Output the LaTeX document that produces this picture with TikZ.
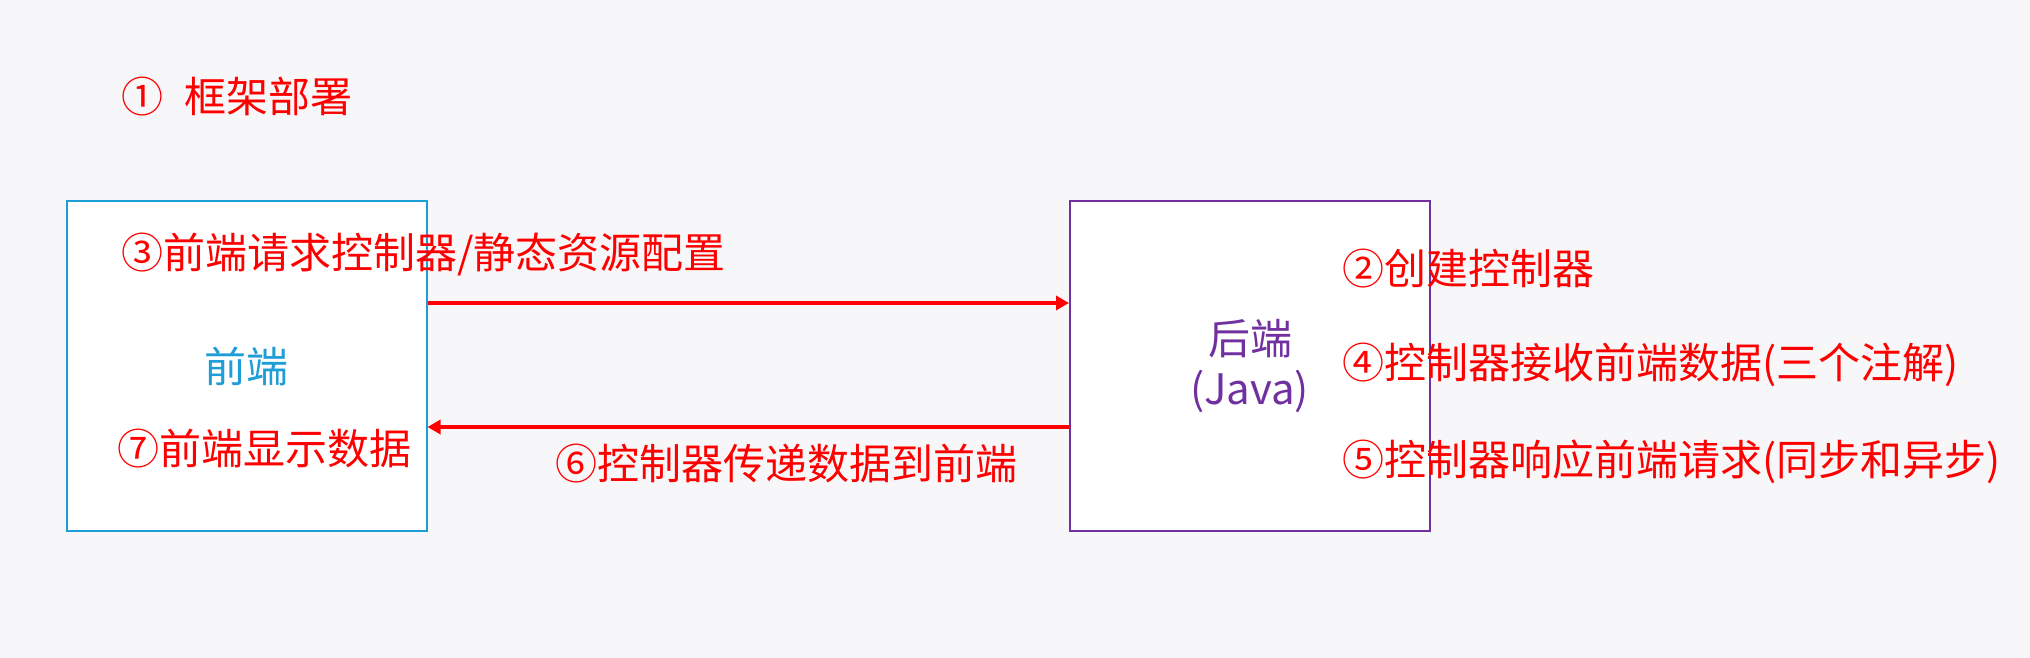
\documentclass[tikz,border=0pt]{standalone}
\usepackage{fontspec}
\setmainfont{Noto Sans CJK SC}
\usetikzlibrary{arrows.meta}
\definecolor{bgcol}{RGB}{247,247,249}
\definecolor{frontblue}{RGB}{30,158,214}
\definecolor{backpurple}{RGB}{112,48,160}
\begin{document}
\begin{tikzpicture}[x=.5pt, y=-.5pt, >={Triangle[length=6.5pt,width=7pt]},
    note/.style={anchor=west, inner sep=0pt, text=red, font=\fontsize{21pt}{25pt}\selectfont},
    box/.style={draw, line width=1pt, fill=white, minimum width=180pt, minimum height=165pt,
        inner sep=0pt, align=center, font=\fontsize{21pt}{25pt}\selectfont},
    flow/.style={->, red, line width=2pt}]
\path[fill=bgcol, use as bounding box](0,0) rectangle (2030,658);

\node[box, draw=frontblue, text=frontblue] (front) at (246.5,366) {前端};
\node[box, draw=backpurple, text=backpurple] (back) at (1250,366) {后端\\(Java)};

\node[note] (deploy) at (121,97) {①\hspace{.5em}框架部署};
\node[note] (request) at (121,254) {③前端请求控制器/静态资源配置};
\node[note] (show) at (117,449) {⑦前端显示数据};
\node[note] (send) at (555,464) {⑥控制器传递数据到前端};
\node[note] (create) at (1342,269) {②创建控制器};
\node[note] (receive) at (1342,365) {④控制器接收前端数据(三个注解)};
\node[note] (respond) at (1342,462) {⑤控制器响应前端请求(同步和异步)};

\draw[flow]([yshift=31.5pt]front.east)--([yshift=31.5pt]back.west);
\draw[flow]([yshift=-30.5pt]back.west)--([yshift=-30.5pt]front.east);
\end{tikzpicture}
\end{document}
